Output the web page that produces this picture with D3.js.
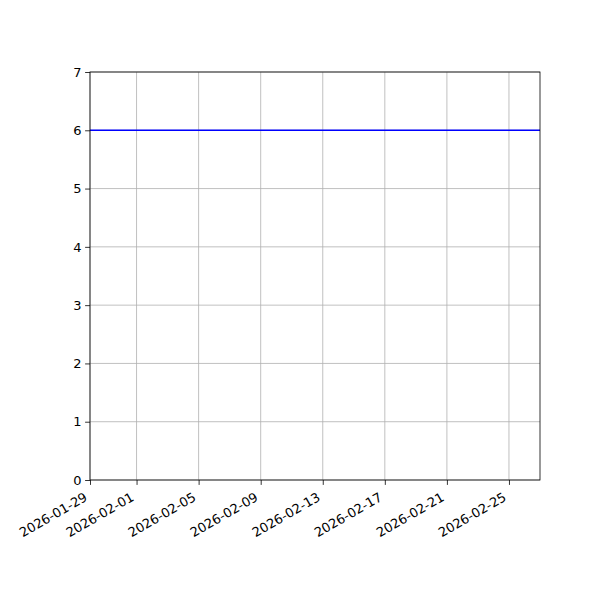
<!DOCTYPE html>
<html><head><meta charset="utf-8">
<script src="https://cdn.jsdelivr.net/npm/d3@7"></script>
<style>body{margin:0;background:#fff}svg{display:block}text{font-family:"DejaVu Sans",sans-serif}</style>
</head><body>
<script>
const dates = ["2026-01-29","2026-01-30","2026-01-31","2026-02-01","2026-02-02","2026-02-03","2026-02-04","2026-02-05","2026-02-06","2026-02-07","2026-02-08","2026-02-09","2026-02-10","2026-02-11","2026-02-12","2026-02-13","2026-02-14","2026-02-15","2026-02-16","2026-02-17","2026-02-18","2026-02-19","2026-02-20","2026-02-21","2026-02-22","2026-02-23","2026-02-24","2026-02-25","2026-02-26","2026-02-27"];
const values = [6,6,6,6,6,6,6,6,6,6,6,6,6,6,6,6,6,6,6,6,6,6,6,6,6,6,6,6,6,6];
const xTickLabels = ["2026-01-29","2026-02-01","2026-02-05","2026-02-09","2026-02-13","2026-02-17","2026-02-21","2026-02-25"];
const yTicks = [0,1,2,3,4,5,6,7];

const parse = d3.utcParse("%Y-%m-%d");
const W=600,H=600, L=90,R=540,T=72,B=480;
const svg = d3.select("body").append("svg").attr("width",W).attr("height",H);
const x = d3.scaleUtc().domain([parse(dates[0]), parse(dates[dates.length-1])]).range([L,R]);
const y = d3.scaleLinear().domain([0,7]).range([B,T]);

// grid
svg.append("g").selectAll("line").data(xTickLabels).join("line")
  .attr("x1",d=>x(parse(d))).attr("x2",d=>x(parse(d))).attr("y1",T).attr("y2",B)
  .attr("stroke","#b0b0b0").attr("stroke-width",0.8);
svg.append("g").selectAll("line").data(yTicks).join("line")
  .attr("y1",d=>y(d)).attr("y2",d=>y(d)).attr("x1",L).attr("x2",R)
  .attr("stroke","#b0b0b0").attr("stroke-width",0.8);

// line
const line = d3.line().x((d,i)=>x(parse(dates[i]))).y(d=>y(d));
svg.append("path").datum(values).attr("d",line).attr("fill","none")
  .attr("stroke","#0000ff").attr("stroke-width",1.5);

// axes
const xAxis = d3.axisBottom(x).tickValues(xTickLabels.map(parse)).tickFormat(d3.utcFormat("%Y-%m-%d")).tickSize(4.9).tickPadding(3.5);
const gx = svg.append("g").attr("transform",`translate(0,${B})`).call(xAxis);
gx.select(".domain").remove();
gx.selectAll(".tick line").attr("stroke","#000").attr("stroke-width",0.8);
gx.selectAll(".tick text").attr("font-size",13).attr("fill","#000")
  .attr("text-anchor","end").attr("dy",null).attr("y",null)
  .attr("transform","translate(-7,11.5) rotate(-30)").attr("dominant-baseline","hanging");

const yAxis = d3.axisLeft(y).tickValues(yTicks).tickFormat(d3.format("d")).tickSize(4.9).tickPadding(3.5);
const gy = svg.append("g").attr("transform",`translate(${L},0)`).call(yAxis);
gy.select(".domain").remove();
gy.selectAll(".tick line").attr("stroke","#000").attr("stroke-width",0.8);
gy.selectAll(".tick text").attr("font-size",13).attr("fill","#000");

// frame
svg.append("rect").attr("x",L).attr("y",T).attr("width",R-L).attr("height",B-T)
  .attr("fill","none").attr("stroke","#000").attr("stroke-width",0.8);
</script>
</body></html>
